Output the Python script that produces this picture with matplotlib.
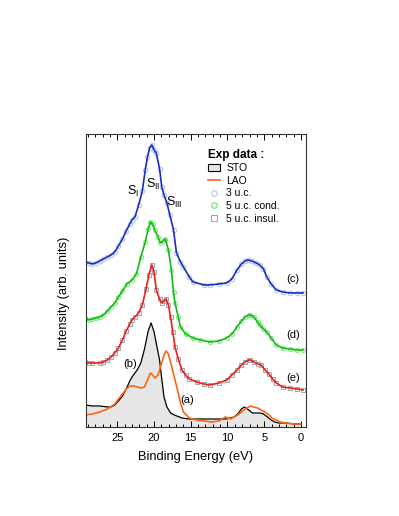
import numpy as np
import matplotlib.pyplot as plt
from matplotlib.lines import Line2D
from matplotlib.patches import Patch
from matplotlib.ticker import MultipleLocator

plt.rcParams['font.family'] = ['Liberation Sans', 'DejaVu Sans']
plt.rcParams['mathtext.fontset'] = 'custom'
plt.rcParams['mathtext.rm'] = 'Liberation Sans'

# (b) STO
e_sto = [29.4, 28.4, 27.4, 26.35, 25.85, 25.35, 24.85, 24.3, 23.8, 23.3,
         23.0, 22.6, 22.3, 21.8, 21.3, 20.8, 20.4, 20.0, 19.55, 19.25,
         18.95, 18.65, 18.25, 17.75, 17.25, 16.2, 15.2, 13.2, 11.15, 10.1,
         9.1, 8.6, 8.1, 7.7, 7.1, 6.6, 6.1, 5.6, 5.1, 4.55,
         4.05, 3.55, 3.05, 2, 1, 0]
i_sto = [22, 21, 21, 20, 20, 22, 26, 31, 38, 46,
         50, 54, 57, 64, 78, 96, 104, 95, 78, 67,
         48, 30, 20, 14, 12, 9, 8, 8, 8, 8,
         10, 13, 18, 20, 17, 14, 14, 14, 13, 10,
         7, 5, 4, 4, 3, 3]

# (a) LAO
e_lao = [29.4, 28.4, 27.4, 26.35, 25.35, 24.85, 24.3, 23.8, 23.3, 22.8,
         22.3, 21.8, 21.3, 20.9, 20.5, 20.2, 19.9, 19.45, 19.05, 18.65,
         18.35, 18.05, 17.65, 17.25, 16.8, 16.4, 16.0, 15.6, 15.2, 14.2,
         13.2, 12.2, 11.15, 10.3, 9.6, 9.1, 8.6, 8.1, 7.6, 7.1,
         6.9, 6.4, 5.9, 5.4, 4.9, 4.35, 3.95, 3.35, 2.85, 2,
         1, 0]
i_lao = [12, 13, 15, 18, 23, 28, 33, 38, 41, 41,
         40, 39, 40, 47, 54, 52, 49, 52, 62, 72,
         76, 73, 62, 50, 37, 24, 15, 12, 9, 7,
         6, 5, 6, 10, 8, 10, 12, 15, 18, 20,
         21, 20, 19, 17, 15, 12, 9, 7, 5, 4,
         3, 3]

# (e) 5 u.c. insulating
e_ins = [29.4, 28.9, 28.4, 27.4, 26.9, 26.35, 25.85, 25.35, 24.85, 24.3,
         23.8, 23.3, 23.0, 22.6, 22.1, 21.6, 21.1, 20.7, 20.3, 20.0,
         19.7, 19.25, 18.95, 18.65, 18.35, 18.05, 17.75, 17.45, 17.15, 16.7,
         16.2, 15.7, 15.2, 14.2, 13.2, 12.4, 11.15, 10.1, 9.4, 8.7,
         8.1, 7.6, 7.1, 6.9, 6.4, 5.9, 5.4, 4.9, 4.35, 3.85,
         3.35, 2.5, 1.5, 0.5, -0.3]
i_ins = [65, 64, 64, 64, 65, 67, 70, 74, 79, 87,
         96, 103, 107, 110, 114, 122, 138, 152, 162, 155,
         137, 128, 124, 126, 128, 122, 110, 95, 80, 68,
         57, 52, 48, 45, 43, 42, 44, 47, 52, 57,
         62, 65, 67, 67, 65, 63, 62, 57, 53, 48,
         44, 40, 39, 38, 37]

# (d) 5 u.c. conducting
e_cond = [29.4, 28.9, 28.4, 27.9, 27.4, 26.9, 26.35, 25.85, 25.35, 24.85,
          24.3, 23.7, 23.0, 22.4, 21.8, 21.2, 20.8, 20.5, 20.2, 19.9,
          19.45, 19.15, 18.75, 18.45, 18.05, 17.65, 17.35, 17.15, 16.7, 16.4,
          15.7, 14.7, 13.7, 12.4, 11.15, 10.1, 9.4, 8.7, 8.1, 7.6,
          7.1, 6.9, 6.4, 5.9, 5.6, 5.1, 4.65, 4.05, 3.35, 2.5,
          1.5, 0.5, -0.3]
i_cond = [109, 107, 108, 109, 110, 112, 116, 120, 124, 130,
          136, 143, 147, 153, 170, 185, 198, 205, 203, 197,
          190, 184, 186, 188, 177, 157, 135, 124, 110, 100,
          93, 89, 87, 85, 86, 89, 93, 100, 106, 110,
          112, 112, 110, 105, 102, 98, 95, 89, 82, 79,
          78, 77, 77]

# (c) 3 u.c.
e_3uc = [29.4, 28.9, 28.4, 27.9, 27.4, 26.9, 26.35, 25.85, 25.35, 24.85,
         24.3, 23.8, 23.3, 23.0, 22.6, 22.1, 21.6, 21.2, 20.9, 20.6,
         20.3, 20.0, 19.7, 19.25, 18.95, 18.65, 18.25, 17.85, 17.35, 16.95,
         16.4, 16.0, 15.2, 14.7, 13.2, 12.4, 11.15, 10.1, 9.4, 8.7,
         8.1, 7.6, 7.2, 6.7, 6.1, 5.6, 5.1, 4.65, 4.05, 3.35,
         2.5, 1.5, 0.5, -0.3]
i_3uc = [165, 164, 163, 164, 166, 168, 170, 172, 175, 181,
         188, 196, 203, 207, 210, 222, 236, 257, 270, 279,
         282, 277, 274, 258, 240, 232, 224, 212, 197, 174,
         165, 160, 150, 145, 142, 142, 143, 144, 148, 157,
         163, 166, 167, 166, 164, 162, 158, 150, 143, 137,
         135, 134, 134, 134]

fig = plt.figure(figsize=(3.99, 5.16), dpi=100)
ax = fig.add_axes([0.215, 0.1725, 0.552, 0.568])

ax.fill_between(e_sto, i_sto, 0, color='#e6e6e6', lw=0)
ax.plot(e_sto, i_sto, color='black', lw=0.9)
ax.plot(e_lao, i_lao, color='#ff6415', lw=1.2)

ax.plot(e_ins, i_ins, 's', ms=2.6, mfc='none', mec='#a6a6a6', mew=0.7)
ax.plot(e_ins, i_ins, color='#ee1c1c', lw=1.2)
ax.plot(e_cond, i_cond, 'o', ms=2.8, mfc='none', mec='#5cf05c', mew=0.7)
ax.plot(e_cond, i_cond, color='#18b818', lw=1.2)
ax.plot(e_3uc, i_3uc, 'o', ms=3.2, mfc='none', mec='#b4c6f6', mew=0.8)
ax.plot(e_3uc, i_3uc, color='#1c2db8', lw=1.2)

ax.set_xlim(29.3, -0.7)
ax.set_ylim(0, 293)
ax.xaxis.set_major_locator(MultipleLocator(5))
ax.xaxis.set_minor_locator(MultipleLocator(1))
ax.tick_params(axis='x', which='both', direction='in', top=True, bottom=True,
               labelsize=8, width=0.7)
ax.tick_params(axis='x', which='major', length=4, pad=4)
ax.tick_params(axis='x', which='minor', length=2)
ax.tick_params(axis='y', left=False, labelleft=False)
for s in ax.spines.values():
    s.set_linewidth(0.8)
    s.set_color('#333333')

ax.set_xlabel('Binding Energy (eV)', fontsize=9.3, labelpad=6)
ax.set_ylabel('Intensity (arb. units)', fontsize=9.3)
ax.yaxis.set_label_coords(-0.07, 0.457)

tk = dict(fontsize=8, ha='center', va='center')
ax.text(1.1, 148, '(c)', **tk)
ax.text(1.1, 92, '(d)', **tk)
ax.text(1.1, 49, '(e)', **tk)
ax.text(23.3, 63, '(b)', **tk)
ax.text(15.5, 27, '(a)', **tk)
sk = dict(fontsize=9, ha='center', va='center')
ax.text(22.8, 235, r'$\mathregular{S_{I}}$', **sk)
ax.text(20.1, 242, r'$\mathregular{S_{II}}$', **sk)
ax.text(17.3, 224, r'$\mathregular{S_{III}}$', **sk)

handles = [
    Patch(facecolor='#e6e6e6', edgecolor='black', lw=0.8),
    Line2D([], [], color='#ff6415', lw=1.2),
    Line2D([], [], ls='none', marker='o', ms=4, mfc='none', mec='#b4c6f6', mew=0.8),
    Line2D([], [], ls='none', marker='o', ms=4, mfc='none', mec='#5cf05c', mew=0.8),
    Line2D([], [], ls='none', marker='s', ms=4, mfc='none', mec='#a6a6a6', mew=0.8),
]
labels = ['STO', 'LAO', '3 u.c.', '5 u.c. cond.', '5 u.c. insul.']
leg = ax.legend(handles, labels, loc='upper left', bbox_to_anchor=(0.52, 0.975),
                frameon=False, fontsize=7.5, handlelength=1.2, handleheight=0.6,
                handletextpad=0.6, labelspacing=0.25, borderpad=0.2,
                title='Exp data :', title_fontproperties={'weight': 'bold', 'size': 8.5},
                alignment='left')

fig.savefig('out.png', dpi=100)
